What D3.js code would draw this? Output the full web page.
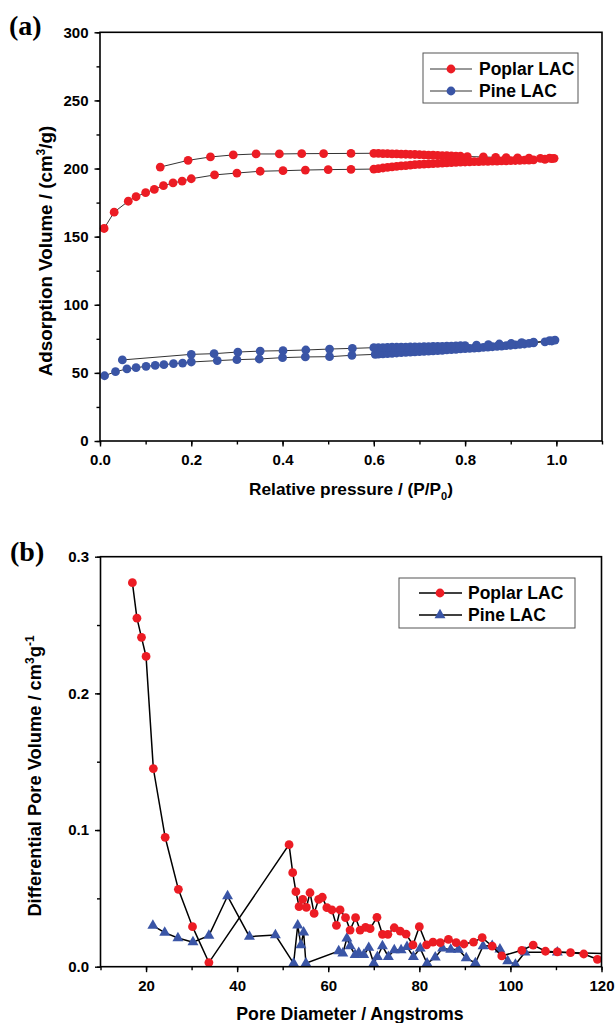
<!DOCTYPE html>
<html><head><meta charset="utf-8">
<script src="https://cdn.jsdelivr.net/npm/d3@7"></script>
<style>
body{margin:0;background:#fff;}
svg{display:block;}
text{font-family:"Liberation Sans",Arial,sans-serif;font-weight:bold;fill:#000;}
</style></head><body>
<svg id="c" width="616" height="1023"></svg>
<script>
// ---------- Panel (a): N2 isotherms ----------
const poplarIsoX = [0.009,0.031,0.062,0.079,0.100,0.119,0.139,0.160,0.180,0.200,0.251,0.300,0.351,0.401,0.450,0.500,0.550,0.600,
  0.610,0.620,0.630,0.640,0.650,0.660,0.670,0.680,0.690,0.700,0.710,0.720,0.730,0.740,0.750,0.760,0.770,0.780,0.790,0.800,
  0.810,0.820,0.830,0.840,0.850,0.860,0.870,0.880,0.890,0.900,0.910,0.920,0.930,0.940,0.950,0.975,0.990,0.995,
  0.985,0.965,0.940,0.915,0.890,0.867,0.840,0.805,
  0.790,0.780,0.770,0.760,0.750,0.740,0.730,0.720,0.710,0.700,0.690,0.680,0.670,0.660,0.650,0.640,0.630,0.620,0.610,0.600,
  0.550,0.490,0.442,0.393,0.342,0.292,0.242,0.193,0.132];
const poplarIsoY = [156.0,168.0,176.0,179.3,182.3,184.7,187.4,189.4,190.8,192.5,195.3,196.7,198.0,198.4,198.9,199.2,199.4,199.6,
  200.0,200.4,200.8,201.2,201.6,201.9,202.2,202.5,202.8,203.0,203.2,203.4,203.6,203.8,204.0,204.2,204.4,204.5,204.7,204.8,
  204.9,205.0,205.1,205.2,205.3,205.4,205.5,205.6,205.7,205.8,205.9,206.0,206.1,206.2,206.4,206.8,207.2,207.5,
  207.6,207.5,207.6,207.8,208.0,208.2,208.5,208.8,
  209.0,209.1,209.2,209.4,209.5,209.6,209.8,209.9,210.0,210.2,210.3,210.4,210.5,210.6,210.7,210.8,210.9,211.0,211.1,211.2,
  211.1,211.0,210.9,210.7,210.7,210.0,208.5,206.0,201.1];

const pineIsoX = [0.010,0.034,0.059,0.079,0.101,0.121,0.140,0.161,0.181,0.200,0.257,0.300,0.349,0.400,0.450,0.503,0.552,0.603,
  0.610,0.620,0.630,0.640,0.650,0.660,0.670,0.680,0.690,0.700,0.710,0.720,0.730,0.740,0.750,0.760,0.770,0.780,0.790,0.800,
  0.810,0.820,0.830,0.840,0.850,0.860,0.870,0.880,0.890,0.900,0.910,0.920,0.930,0.940,0.950,0.975,0.990,0.997,
  0.985,0.950,0.924,0.901,0.875,0.851,0.825,0.800,
  0.790,0.780,0.770,0.760,0.750,0.740,0.730,0.720,0.710,0.700,0.690,0.680,0.670,0.660,0.650,0.640,0.630,0.620,0.610,0.600,
  0.553,0.503,0.451,0.401,0.351,0.302,0.250,0.200,0.049];
const pineIsoY = [47.9,50.9,52.9,53.8,54.8,55.5,56.0,56.8,57.2,58.0,59.0,59.7,60.2,61.2,61.7,61.9,62.9,63.6,
  63.8,64.0,64.2,64.4,64.6,64.8,65.0,65.2,65.4,65.6,65.8,66.0,66.2,66.4,66.6,66.9,67.1,67.3,67.6,67.8,
  68.0,68.2,68.4,68.7,68.9,69.2,69.4,69.7,70.0,70.3,70.6,70.9,71.2,71.6,72.0,72.8,73.4,74.1,
  73.6,72.6,72.2,71.6,71.2,70.8,70.4,70.0,
  69.9,69.8,69.7,69.6,69.5,69.4,69.4,69.3,69.2,69.1,69.0,69.0,68.9,68.9,68.8,68.8,68.7,68.6,68.6,68.5,
  68.0,67.5,66.8,66.3,66.0,65.3,64.1,63.6,59.5];

const aXTicks = [0.0,0.2,0.4,0.6,0.8,1.0];
const aYTicks = [0,50,100,150,200,250,300];

// ---------- Panel (b): pore size distribution ----------
const poplarPsdX = [17.0,18.0,19.0,20.0,21.6,24.2,27.1,30.2,33.8,51.4,52.2,52.9,53.6,54.4,55.2,56.0,56.9,57.9,58.7,59.7,60.8,61.8,62.6,63.8,64.8,66.0,67.0,68.2,69.2,70.7,71.9,73.1,74.5,75.8,77.1,78.6,80.0,81.6,83.0,84.6,86.4,88.1,89.8,91.9,93.8,96.0,98.1,102.5,105.0,107.7,110.3,113.2,116.1,119.1];
const poplarPsdY = [0.281,0.255,0.241,0.227,0.145,0.0947,0.0566,0.0293,0.003,0.0893,0.0688,0.0549,0.0439,0.0493,0.0434,0.0541,0.039,0.0493,0.0508,0.0432,0.0415,0.0303,0.0415,0.0359,0.0268,0.0359,0.0268,0.0288,0.0278,0.0361,0.0237,0.0237,0.0285,0.0261,0.0239,0.0159,0.0293,0.016,0.018,0.0176,0.020,0.0176,0.0166,0.018,0.0213,0.0150,0.0079,0.012,0.0158,0.0113,0.0108,0.0103,0.0093,0.0054];

const pinePsdX = [21.5,24.1,27.0,30.3,33.8,37.9,42.7,48.4,52.4,53.3,54.0,54.6,55.1,62.3,63.2,64.1,64.8,65.9,66.7,67.8,68.9,70.0,70.8,71.9,73.2,74.5,76.0,77.3,78.7,80.2,81.7,83.5,85.1,86.9,88.6,90.3,92.3,94.0,96.0,97.7,99.4,101.1,103.2,110.3,122.0];
const pinePsdY = [0.030,0.0249,0.021,0.018,0.0227,0.0517,0.022,0.0232,0.0025,0.0302,0.0159,0.0252,0.0025,0.0115,0.0098,0.0208,0.0151,0.0086,0.0102,0.0086,0.0139,0.0025,0.0073,0.0151,0.0073,0.0122,0.0122,0.0146,0.0073,0.0134,0.0025,0.0068,0.0134,0.0125,0.0125,0.0063,0.0027,0.0151,0.0153,0.0127,0.0041,0.0016,0.0106,0.0105,0.0095];

const bXTicks = [20,40,60,80,100,120];
const bYTicks = [0.0,0.1,0.2,0.3];

const seriesNames = ["Poplar LAC","Pine LAC"];
const RED = "#ec1c24", BLUE = "#3a55a6";

// ---------- drawing ----------
const svg = d3.select("#c");
const zip = (xs, ys) => xs.map((x,i)=>({x, y: ys[i]}));

function frame(g, x, y){
  const [x0,x1] = x.range(), [y0,y1] = y.range();
  g.append("rect").attr("x",x0).attr("y",y1).attr("width",x1-x0).attr("height",y0-y1)
    .attr("fill","none").attr("stroke","#000").attr("stroke-width",1.6);
}
function axes(g, x, y, xt, yt, xMinor, yMinor, xfmt, yfmt){
  const [x0,x1] = x.range(), [y0,y1] = y.range();
  const ax = g.append("g").attr("transform",`translate(0,${y0})`)
    .call(d3.axisBottom(x).tickValues(xMinor).tickSize(3.5).tickFormat(""));
  ax.select(".domain").remove();
  const axM = g.append("g").attr("class","xm").attr("transform",`translate(0,${y0})`)
    .call(d3.axisBottom(x).tickValues(xt).tickSize(5.5).tickPadding(5).tickFormat(xfmt));
  axM.select(".domain").remove();
  const ay = g.append("g").attr("transform",`translate(${x0},0)`)
    .call(d3.axisLeft(y).tickValues(yMinor).tickSize(3.5).tickFormat(""));
  ay.select(".domain").remove();
  const ayM = g.append("g").attr("transform",`translate(${x0},0)`)
    .call(d3.axisLeft(y).tickValues(yt).tickSize(5.5).tickPadding(6).tickFormat(yfmt));
  ayM.select(".domain").remove();
  g.selectAll(".tick line").attr("stroke","#000").attr("stroke-width",1.4);
  g.selectAll(".tick text").style("font-family","'Liberation Sans',Arial,sans-serif")
    .style("font-weight","bold").style("font-size","15px").attr("fill","#000");
  axM.selectAll(".tick text").attr("dy","0.9em");
}

// Panel a
const xa = d3.scaleLinear().domain([0,1.1]).range([100,602]);
const ya = d3.scaleLinear().domain([0,300]).range([441,32.3]);
const ga = svg.append("g");
const aMinorX = d3.range(0,1.11,0.1).map(v=>+v.toFixed(2));
const aMinorY = d3.range(0,301,25);
axes(ga, xa, ya, aXTicks, aYTicks, aMinorX, aMinorY, d3.format(".1f"), d3.format("d"));

const lineA = d3.line().x(d=>xa(d.x)).y(d=>ya(d.y));
[[zip(poplarIsoX,poplarIsoY),RED],[zip(pineIsoX,pineIsoY),BLUE]].forEach(([d,c])=>{
  ga.append("path").datum(d).attr("d",lineA).attr("fill","none").attr("stroke","#333").attr("stroke-width",1);
  ga.append("g").selectAll("circle").data(d).join("circle")
    .attr("cx",p=>xa(p.x)).attr("cy",p=>ya(p.y)).attr("r",4.4).attr("fill",c);
});
frame(ga, xa, ya);

// legend a
const la = ga.append("g");
la.append("rect").attr("x",423).attr("y",53).attr("width",155).attr("height",50)
  .attr("fill","#fff").attr("stroke","#555").attr("stroke-width",1);
seriesNames.forEach((n,i)=>{
  const yy = 69 + i*22;
  la.append("line").attr("x1",430).attr("x2",472).attr("y1",yy).attr("y2",yy).attr("stroke","#333").attr("stroke-width",1);
  la.append("circle").attr("cx",451).attr("cy",yy).attr("r",4.4).attr("fill",i===0?RED:BLUE);
  la.append("text").attr("x",479).attr("y",yy+6).style("font-size","17.5px").text(n);
});

// titles a
svg.append("text").attr("x",9).attr("y",35).style("font-family","'Liberation Serif','Times New Roman',serif")
  .style("font-size","28px").text("(a)");
const ta = svg.append("text").attr("transform","translate(52,251) rotate(-90)").attr("text-anchor","middle")
  .style("font-size","18.8px");
ta.append("tspan").text("Adsorption Volume / (cm");
ta.append("tspan").attr("dy",-7).style("font-size","12px").text("3");
ta.append("tspan").attr("dy",7).text("/g)");
const xta = svg.append("text").attr("x",351).attr("y",495).attr("text-anchor","middle").style("font-size","17.3px");
xta.append("tspan").text("Relative pressure / (P/P");
xta.append("tspan").attr("dy",5).style("font-size","11px").text("0");
xta.append("tspan").attr("dy",-5).text(")");

// Panel b
const xb = d3.scaleLinear().domain([10,120]).range([100.5,601.5]);
const yb = d3.scaleLinear().domain([0,0.3]).range([966.7,556.7]);
const gb = svg.append("g");
axes(gb, xb, yb, bXTicks, bYTicks, d3.range(10,121,10), [0,0.05,0.1,0.15,0.2,0.25,0.3], d3.format("d"), d3.format(".1f"));

svg.append("clipPath").attr("id","clipb").append("rect")
  .attr("x",100.5).attr("y",556.7).attr("width",501).attr("height",410);
const lineB = d3.line().x(d=>xb(d.x)).y(d=>yb(d.y));
const tri = d3.symbol().type(d3.symbolTriangle).size(52);
const pineG = gb.append("g").attr("clip-path","url(#clipb)");
const pd = zip(pinePsdX,pinePsdY);
pineG.append("path").datum(pd).attr("d",lineB).attr("fill","none").attr("stroke","#000").attr("stroke-width",1.5);
const popd = zip(poplarPsdX,poplarPsdY);
gb.append("path").datum(popd).attr("d",lineB).attr("fill","none").attr("stroke","#000").attr("stroke-width",1.5);
gb.append("g").selectAll("circle").data(popd).join("circle")
  .attr("cx",p=>xb(p.x)).attr("cy",p=>yb(p.y)).attr("r",4.4).attr("fill",RED);
pineG.append("g").selectAll("path").data(pd).join("path").attr("d",tri)
  .attr("transform",p=>`translate(${xb(p.x)},${yb(p.y)})`).attr("fill",BLUE);
frame(gb, xb, yb);

// legend b
const lb = gb.append("g");
lb.append("rect").attr("x",399).attr("y",578).attr("width",176).attr("height",50)
  .attr("fill","#fff").attr("stroke","#555").attr("stroke-width",1);
seriesNames.forEach((n,i)=>{
  const yy = 593 + i*22;
  lb.append("line").attr("x1",419).attr("x2",462).attr("y1",yy).attr("y2",yy).attr("stroke","#000").attr("stroke-width",1.5);
  if(i===0) lb.append("circle").attr("cx",440).attr("cy",yy).attr("r",4.4).attr("fill",RED);
  else lb.append("path").attr("d",tri).attr("transform",`translate(440,${yy})`).attr("fill",BLUE);
  lb.append("text").attr("x",468).attr("y",yy+6).style("font-size","17.5px").text(n);
});

svg.append("text").attr("x",10).attr("y",561).style("font-family","'Liberation Serif','Times New Roman',serif")
  .style("font-size","28px").text("(b)");
const tb = svg.append("text").attr("transform","translate(41,776) rotate(-90)").attr("text-anchor","middle")
  .style("font-size","18.3px");
tb.append("tspan").text("Differential Pore Volume / cm");
tb.append("tspan").attr("dy",-7).style("font-size","12px").text("3");
tb.append("tspan").attr("dy",7).text("g");
tb.append("tspan").attr("dy",-7).style("font-size","12px").text("-1");
svg.append("text").attr("x",350).attr("y",1020).attr("text-anchor","middle").style("font-size","17.7px")
  .text("Pore Diameter / Angstroms");
</script></body></html>
